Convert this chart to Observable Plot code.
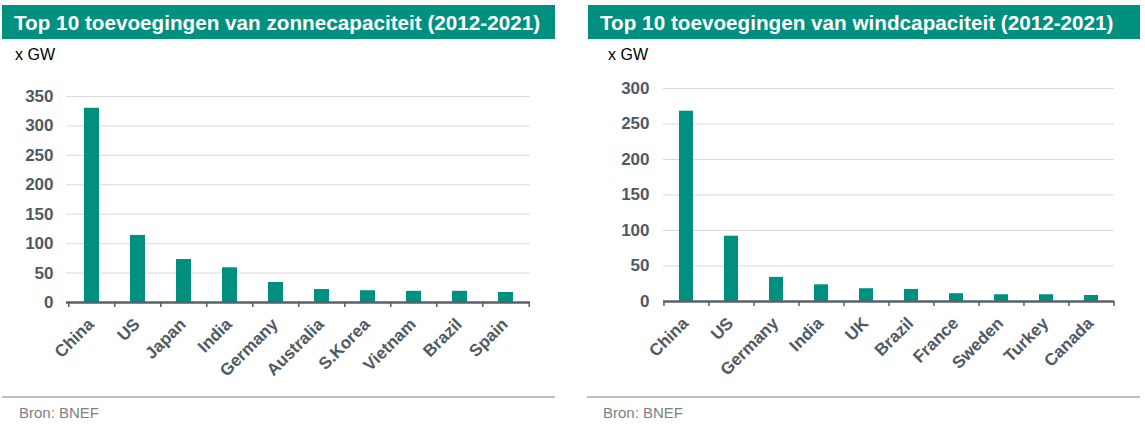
<!DOCTYPE html>
<html><head><meta charset="utf-8">
<script src="https://cdn.jsdelivr.net/npm/d3@7"></script>
<script src="https://cdn.jsdelivr.net/npm/@observablehq/plot@0.6"></script>
<style>
body{margin:0;background:#fff;font-family:"Liberation Sans",Arial,sans-serif;}
#root{position:relative;width:1145px;height:430px;overflow:hidden}
.title{position:absolute;top:5px;height:34px;background:#00907f;color:#fff;font-weight:bold;font-size:20.7px;line-height:36px;padding-left:12px;box-sizing:border-box;white-space:nowrap}
.unit{position:absolute;top:46px;font-size:16px;color:#000}
.sep{position:absolute;top:396px;height:2px;background:#c0c0c0}
.src{position:absolute;top:404px;font-size:15px;color:#808080}
.chart{position:absolute;top:60px}
</style></head><body><div id="root">
<div class="title" style="left:2px;width:553px">Top 10 toevoegingen van zonnecapaciteit (2012-2021)</div>
<div class="unit" style="left:15px">x GW</div>
<div class="chart" id="solar" style="left:0px"></div>
<div class="sep" style="left:2px;width:553px"></div>
<div class="src" style="left:19px">Bron: BNEF</div>

<div class="title" style="left:588px;width:552px">Top 10 toevoegingen van windcapaciteit (2012-2021)</div>
<div class="unit" style="left:608px">x GW</div>
<div class="chart" id="wind" style="left:580px"></div>
<div class="sep" style="left:587px;width:553px"></div>
<div class="src" style="left:603px">Bron: BNEF</div>
</div>
<script>
const solarCountries = ["China","US","Japan","India","Germany","Australia","S.Korea","Vietnam","Brazil","Spain"];
const solarValues = [330,114,73,59,34,22,20,19,19,17];
const solarTicks = [0,50,100,150,200,250,300,350];

const windCountries = ["China","US","Germany","India","UK","Brazil","France","Sweden","Turkey","Canada"];
const windValues = [268,92,34,23.5,18,17,11,9.5,9.5,8.5];
const windTicks = [0,50,100,150,200,250,300];

const BAR = "#009080";
const AXIS = "#56616b";
const LABEL = "#4f5a64";

function makeChart(countries, values, ticks, o) {
  const data = countries.map((c, i) => ({country: c, value: values[i]}));
  const height = 330;
  const step = (o.width - o.marginLeft - o.marginRight) / countries.length;
  const yMax = ticks[ticks.length - 1];
  const plotH = height - o.marginTop - o.marginBottom;
  const tickUnits = 5 * yMax / plotH;
  return Plot.plot({
    width: o.width, height,
    marginTop: o.marginTop, marginBottom: o.marginBottom,
    marginLeft: o.marginLeft, marginRight: o.marginRight,
    style: {fontFamily: "'Liberation Sans', Arial, sans-serif", background: "transparent"},
    x: {domain: countries, paddingInner: 0.68, paddingOuter: 0.34, label: null, axis: null},
    y: {domain: [0, yMax], label: null, axis: null},
    marks: [
      Plot.gridY(ticks.slice(1), {stroke: "#d9d9d9", strokeOpacity: 1, strokeWidth: 1}),
      Plot.barY(data, {x: "country", y: "value", fill: BAR}),
      Plot.ruleY([0], {stroke: AXIS, strokeWidth: 2.5}),
      Plot.ruleX(countries, {x: d => d, dx: -step / 2, y1: 0, y2: -tickUnits, stroke: AXIS, strokeWidth: 1.5}),
      Plot.ruleX([countries[countries.length - 1]], {x: d => d, dx: step / 2, y1: 0, y2: -tickUnits, stroke: AXIS, strokeWidth: 1.5}),
      Plot.axisY(ticks, {tickSize: 0, tickPadding: o.yPad, fontSize: 17, fontWeight: "bold", fill: LABEL}),
      Plot.axisX({tickSize: 0, tickRotate: -45, tickPadding: 19, dx: -1, fontSize: 17, fontWeight: "bold", fill: LABEL})
    ]
  });
}

document.getElementById("solar").append(makeChart(solarCountries, solarValues, solarTicks,
  {width: 560, marginTop: 36, marginBottom: 88, marginLeft: 66, marginRight: 30, yPad: 13}));
document.getElementById("wind").append(makeChart(windCountries, windValues, windTicks,
  {width: 565, marginTop: 28, marginBottom: 89, marginLeft: 83, marginRight: 31, yPad: 14}));
</script>
</body></html>
